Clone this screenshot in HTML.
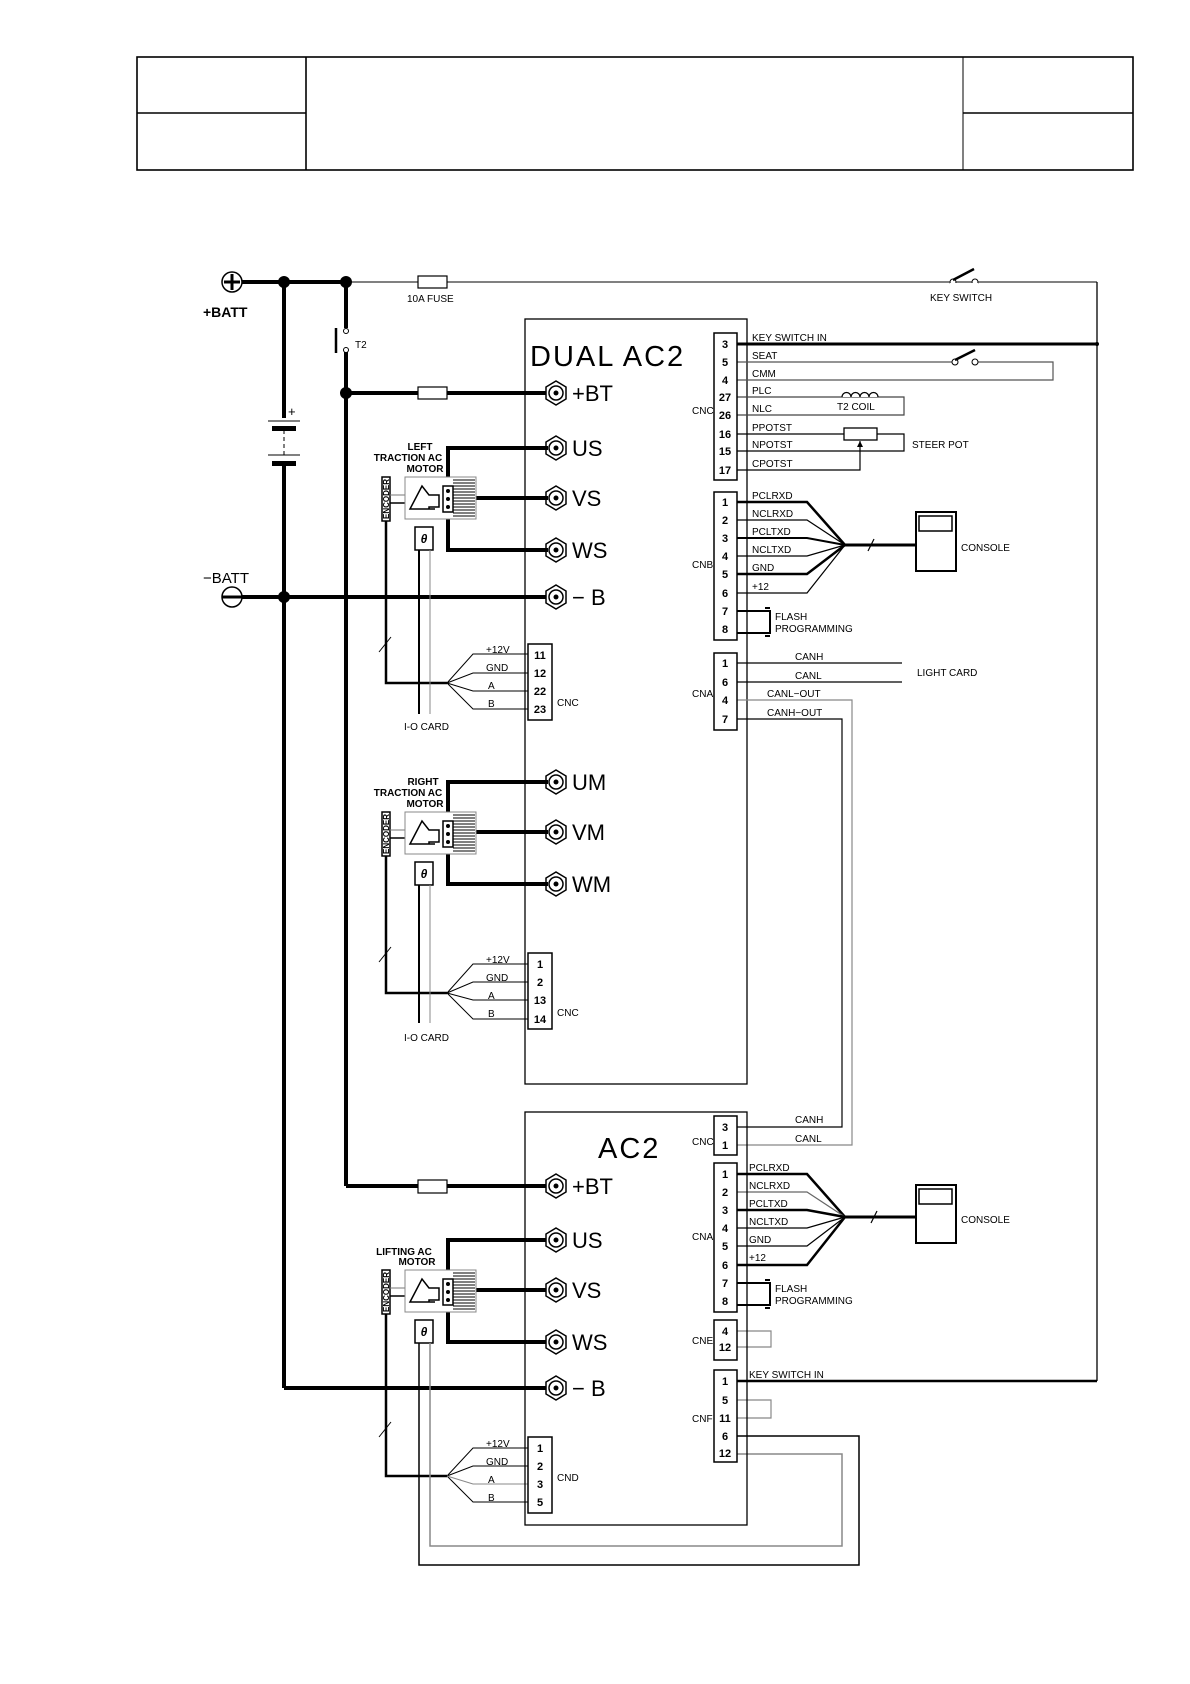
<!DOCTYPE html>
<html><head><meta charset="utf-8"><style>
html,body{margin:0;padding:0;background:#fff}
svg{display:block}
text{font-family:"Liberation Sans",sans-serif;fill:#000}
.p{font-size:11px;font-weight:bold;text-anchor:middle}
.l{font-size:10px}
.b{font-size:22px}
</style></head><body>
<svg width="1190" height="1684" viewBox="0 0 1190 1684" xmlns="http://www.w3.org/2000/svg">
<defs>
<g id="term"><polygon points="0,-12 10,-6 10,6 0,12 -10,6 -10,-6" fill="#fff" stroke="#000" stroke-width="1.5"/><circle r="7" fill="none" stroke="#000" stroke-width="1.5"/><circle r="2.5" fill="#000"/></g>
<g id="motor">
<rect x="-23" y="0" width="8" height="44" fill="#fff" stroke="#000" stroke-width="1.5"/>
<text transform="translate(-16,42) rotate(-90)" style="font-size:8px;font-weight:bold">ENCODER</text>
<line x1="-15" y1="18" x2="0" y2="18" stroke="#777"/><line x1="-15" y1="26" x2="0" y2="26" stroke="#000" stroke-width="1.5"/>
<rect x="0" y="0" width="71" height="42" fill="#fff" stroke="#888"/>
<path d="M5,32 L17,9 L24,18 L34,18 L34,30 L24,30 L24,32 Z M5,32 L30,32" fill="none" stroke="#000" stroke-width="1.5"/>
<rect x="38" y="9" width="10" height="26" fill="#fff" stroke="#000" stroke-width="1.5"/>
<circle cx="43" cy="14" r="2" fill="#000"/><circle cx="43" cy="22" r="2" fill="#000"/><circle cx="43" cy="30" r="2" fill="#000"/>
<g stroke="#000" stroke-width="1"><line x1="48" y1="3" x2="70" y2="3"/><line x1="48" y1="6" x2="70" y2="6"/><line x1="48" y1="9" x2="70" y2="9"/><line x1="48" y1="12" x2="70" y2="12"/><line x1="48" y1="15" x2="70" y2="15"/><line x1="48" y1="18" x2="70" y2="18"/><line x1="48" y1="21" x2="70" y2="21"/><line x1="48" y1="24" x2="70" y2="24"/><line x1="48" y1="27" x2="70" y2="27"/><line x1="48" y1="30" x2="70" y2="30"/><line x1="48" y1="33" x2="70" y2="33"/><line x1="48" y1="36" x2="70" y2="36"/><line x1="48" y1="39" x2="70" y2="39"/></g>
<rect x="10" y="50" width="18" height="23" fill="#fff" stroke="#000" stroke-width="1.5"/>
<text x="19" y="66" style="font-size:12px;font-weight:bold;font-style:italic" text-anchor="middle">θ</text>
</g>
</defs>

<!-- header -->
<g fill="none" stroke="#000" stroke-width="1.6">
<rect x="137" y="57" width="996" height="113"/>
<line x1="306" y1="57" x2="306" y2="170"/><line x1="963" y1="57" x2="963" y2="170" stroke-width="1"/>
<line x1="137" y1="113" x2="306" y2="113"/><line x1="963" y1="113" x2="1133" y2="113"/>
</g>

<!-- power rails -->
<g fill="none" stroke="#000">
<line x1="232" y1="282" x2="346" y2="282" stroke-width="4"/>
<line x1="346" y1="282" x2="1097" y2="282" stroke-width="1"/>
<line x1="1097" y1="282" x2="1097" y2="1381" stroke-width="1.3"/>
<line x1="284" y1="282" x2="284" y2="418" stroke-width="4"/>
<line x1="284" y1="466" x2="284" y2="1388" stroke-width="4"/>
<line x1="284" y1="430" x2="284" y2="455" stroke-width="1" stroke-dasharray="4,3"/>
<line x1="346" y1="282" x2="346" y2="328" stroke-width="4"/>
<line x1="346" y1="352" x2="346" y2="1186" stroke-width="4"/>
<line x1="232" y1="597" x2="556" y2="597" stroke-width="4"/>
<line x1="284" y1="1388" x2="556" y2="1388" stroke-width="4"/>
<line x1="346" y1="393" x2="556" y2="393" stroke-width="4"/>
<line x1="346" y1="1186" x2="556" y2="1186" stroke-width="4"/>
</g>
<circle cx="284" cy="282" r="6"/><circle cx="346" cy="282" r="6"/><circle cx="346" cy="393" r="6"/><circle cx="284" cy="597" r="6"/>
<circle cx="232" cy="282" r="10" fill="#fff" stroke="#000" stroke-width="1.5"/>
<path d="M224,282 H240 M232,274 V290" stroke="#000" stroke-width="3"/>
<circle cx="232" cy="597" r="10" fill="#fff" stroke="#000" stroke-width="1.5"/>
<path d="M222,597 H242" stroke="#000" stroke-width="3"/>
<text x="203" y="317" style="font-size:14px;font-weight:bold">+BATT</text>
<text x="203" y="583" style="font-size:15px">−BATT</text>
<!-- battery -->
<line x1="268" y1="421" x2="300" y2="421" stroke="#000" stroke-width="1"/>
<rect x="272" y="426" width="24" height="5"/>
<line x1="268" y1="455" x2="300" y2="455" stroke="#000" stroke-width="1"/>
<rect x="272" y="461" width="24" height="5"/>
<text x="288" y="416" style="font-size:13px">+</text>
<!-- fuses -->
<rect x="418" y="276" width="29" height="12" fill="#fff" stroke="#000" stroke-width="1.2"/>
<text x="407" y="302" class="l">10A FUSE</text>
<rect x="418" y="387" width="29" height="12" fill="#fff" stroke="#000" stroke-width="1.2"/>
<rect x="418" y="1180" width="29" height="13" fill="#fff" stroke="#000" stroke-width="1.2"/>
<!-- T2 -->
<line x1="336" y1="328" x2="336" y2="353" stroke="#000" stroke-width="2.5"/>
<circle cx="346" cy="331" r="2.5" fill="#fff" stroke="#000"/><circle cx="346" cy="350" r="2.5" fill="#fff" stroke="#000"/>
<text x="355" y="348" class="l">T2</text>
<!-- key switch -->
<circle cx="953" cy="282" r="3" fill="#fff" stroke="#000"/><circle cx="975" cy="282" r="3" fill="#fff" stroke="#000"/>
<line x1="953" y1="280" x2="974" y2="269" stroke="#000" stroke-width="2.5"/>
<rect x="950" y="283" width="28" height="3" fill="#fff"/>
<text x="930" y="301" class="l">KEY SWITCH</text>

<!-- DUAL AC2 box -->
<rect x="525" y="319" width="222" height="765" fill="none" stroke="#000" stroke-width="1.3"/>
<text x="530" y="366" style="font-size:29px;letter-spacing:2px">DUAL AC2</text>
<use href="#term" x="556" y="393"/><text x="572" y="401" class="b">+BT</text>
<use href="#term" x="556" y="448"/><text x="572" y="456" class="b">US</text>
<use href="#term" x="556" y="498"/><text x="572" y="506" class="b">VS</text>
<use href="#term" x="556" y="550"/><text x="572" y="558" class="b">WS</text>
<use href="#term" x="556" y="597"/><text x="572" y="605" class="b">− B</text>
<use href="#term" x="556" y="782"/><text x="572" y="790" class="b">UM</text>
<use href="#term" x="556" y="832"/><text x="572" y="840" class="b">VM</text>
<use href="#term" x="556" y="884"/><text x="572" y="892" class="b">WM</text>

<!-- motor wires -->
<g fill="none" stroke="#000" stroke-width="4">
<path d="M448,487 V448 H548"/><path d="M443,498 H548"/><path d="M448,507 V550 H548"/>
<path d="M448,822 V782 H548"/><path d="M443,832 H548"/><path d="M448,842 V884 H548"/>
<path d="M448,1280 V1240 H548"/><path d="M443,1290 H548"/><path d="M448,1300 V1342 H548"/>
</g>
<use href="#motor" x="405" y="477"/>
<use href="#motor" x="405" y="812"/>
<use href="#motor" x="405" y="1270"/>
<text x="420" y="450" style="font-size:10px;font-weight:bold" text-anchor="middle">LEFT</text>
<text x="408" y="461" style="font-size:10px;font-weight:bold" text-anchor="middle">TRACTION AC</text>
<text x="425" y="472" style="font-size:10px;font-weight:bold" text-anchor="middle">MOTOR</text>
<text x="423" y="785" style="font-size:10px;font-weight:bold" text-anchor="middle">RIGHT</text>
<text x="408" y="796" style="font-size:10px;font-weight:bold" text-anchor="middle">TRACTION AC</text>
<text x="425" y="807" style="font-size:10px;font-weight:bold" text-anchor="middle">MOTOR</text>
<text x="404" y="1255" style="font-size:10px;font-weight:bold" text-anchor="middle">LIFTING AC</text>
<text x="417" y="1265" style="font-size:10px;font-weight:bold" text-anchor="middle">MOTOR</text>

<!-- encoder wires -->
<g fill="none" stroke="#000">
<path d="M386,521 V683 H447" stroke-width="2.5"/>
<path d="M386,856 V993 H447" stroke-width="2.5"/>
<path d="M386,1314 V1476 H447" stroke-width="2.5"/>
<line x1="379" y1="652" x2="391" y2="637"/><line x1="379" y1="962" x2="391" y2="947"/><line x1="379" y1="1437" x2="391" y2="1422"/>
<line x1="419" y1="550" x2="419" y2="714" stroke-width="2"/><line x1="430" y1="550" x2="430" y2="714" stroke="#888"/>
<line x1="419" y1="885" x2="419" y2="1023" stroke-width="2"/><line x1="430" y1="885" x2="430" y2="1023" stroke="#888"/>
<path d="M419,1343 V1565 H859 V1436 H737" stroke-width="1.5"/>
<path d="M430,1343 V1546 H842 V1454 H737" stroke="#888" stroke-width="1.5"/>
<path d="M447,683 L473,654 H528 M447,683 L473,673 H528 M447,683 L473,691 H528 M447,683 L473,709 H528"/>
<path d="M447,993 L473,964 H528 M447,993 L473,982 H528 M447,993 L473,1000 H528 M447,993 L473,1019 H528"/>
<path d="M447,1476 L473,1448 H528 M447,1476 L473,1466 H528 M447,1476 L473,1502 H528"/>
<path d="M447,1476 L473,1484 H528" stroke="#888"/>
</g>
<g class="l">
<text x="486" y="653">+12V</text><text x="486" y="671">GND</text><text x="488" y="689">A</text><text x="488" y="707">B</text>
<text x="486" y="963">+12V</text><text x="486" y="981">GND</text><text x="488" y="999">A</text><text x="488" y="1017">B</text>
<text x="486" y="1447">+12V</text><text x="486" y="1465">GND</text><text x="488" y="1483">A</text><text x="488" y="1501">B</text>
<text x="404" y="730">I-O CARD</text><text x="404" y="1041">I-O CARD</text>
<text x="557" y="706">CNC</text><text x="557" y="1016">CNC</text><text x="557" y="1481">CND</text>
</g>
<g fill="#fff" stroke="#000" stroke-width="1.5">
<rect x="528" y="644" width="24" height="76"/><rect x="528" y="953" width="24" height="76"/><rect x="528" y="1437" width="24" height="76"/>
</g>
<g class="p">
<text x="540" y="659">11</text><text x="540" y="677">12</text><text x="540" y="695">22</text><text x="540" y="713">23</text>
<text x="540" y="968">1</text><text x="540" y="986">2</text><text x="540" y="1004">13</text><text x="540" y="1023">14</text>
<text x="540" y="1452">1</text><text x="540" y="1470">2</text><text x="540" y="1488">3</text><text x="540" y="1506">5</text>
</g>

<!-- right side wiring -->
<g fill="none" stroke="#000" stroke-width="1.2">
<line x1="737" y1="344" x2="1097" y2="344" stroke-width="3"/>
<path d="M737,362 H953 M975,362 H1053 V380 H737" stroke="#555"/>
<path d="M737,397 H904 V415 H737" stroke="#444"/>
<path d="M737,434 H844 M877,434 H904 V451 H737"/>
<path d="M737,470 H860 V441"/>
<path d="M737,502 H807 L845,545" stroke-width="2.5"/>
<path d="M737,520 H807 L845,545"/>
<path d="M737,538 H807 L845,545" stroke-width="2"/>
<path d="M737,556 H807 L845,545"/>
<path d="M737,574 H807 L845,545" stroke-width="2.5"/>
<path d="M737,593 H807 L845,545"/>
<path d="M845,545 H916" stroke-width="3"/>
<line x1="868" y1="551" x2="874" y2="539"/>
<path d="M737,611 H770 V633 H737 M765,608 H770 M765,636 H770" stroke-width="2"/>
<path d="M737,663 H902 M737,682 H902"/>
<path d="M737,700 H852 V1145 H737" stroke="#888"/>
<path d="M737,719 H842 V1127 H737"/>
<path d="M737,1174 H807 L845,1217" stroke-width="2.5"/>
<path d="M737,1192 H807 L845,1217" stroke="#666"/>
<path d="M737,1210 H807 L845,1217" stroke-width="2.5"/>
<path d="M737,1228 H807 L845,1217"/>
<path d="M737,1246 H807 L845,1217"/>
<path d="M737,1265 H807 L845,1217" stroke-width="2.5"/>
<path d="M845,1217 H916" stroke-width="3"/>
<line x1="871" y1="1223" x2="877" y2="1211"/>
<path d="M737,1283 H770 V1305 H737 M765,1280 H770 M765,1308 H770" stroke-width="2"/>
<path d="M737,1331 H771 V1347 H737" stroke="#888"/>
<path d="M737,1400 H771 V1418 H737" stroke="#888"/>
<path d="M737,1381 H1097" stroke-width="2.5"/>
</g>
<circle cx="1097" cy="344" r="2" fill="#000"/>
<circle cx="955" cy="362" r="3" fill="#fff" stroke="#000"/><circle cx="975" cy="362" r="3" fill="#fff" stroke="#000"/>
<line x1="955" y1="360" x2="975" y2="350" stroke="#000" stroke-width="2.5"/>
<path d="M842,397 a4.5,4.5 0 0 1 9,0 a4.5,4.5 0 0 1 9,0 a4.5,4.5 0 0 1 9,0 a4.5,4.5 0 0 1 9,0" fill="#fff" stroke="#000" stroke-width="1.3"/>
<text x="837" y="410" class="l">T2 COIL</text>
<rect x="844" y="428" width="33" height="12" fill="#fff" stroke="#000" stroke-width="1.3"/>
<path d="M857,447 L860,441 L863,447 Z"/>
<text x="912" y="448" class="l">STEER POT</text>
<rect x="916" y="512" width="40" height="59" fill="#fff" stroke="#000" stroke-width="2"/>
<rect x="919" y="516" width="33" height="15" fill="none" stroke="#000" stroke-width="1.5"/>
<text x="961" y="551" class="l">CONSOLE</text>
<rect x="916" y="1185" width="40" height="58" fill="#fff" stroke="#000" stroke-width="2"/>
<rect x="919" y="1189" width="33" height="15" fill="none" stroke="#000" stroke-width="1.5"/>
<text x="961" y="1223" class="l">CONSOLE</text>

<g class="l">
<text x="752" y="341">KEY SWITCH IN</text><text x="752" y="359">SEAT</text><text x="752" y="377">CMM</text><text x="752" y="394">PLC</text><text x="752" y="412">NLC</text><text x="752" y="431">PPOTST</text><text x="752" y="448">NPOTST</text><text x="752" y="467">CPOTST</text>
<text x="752" y="499">PCLRXD</text><text x="752" y="517">NCLRXD</text><text x="752" y="535">PCLTXD</text><text x="752" y="553">NCLTXD</text><text x="752" y="571">GND</text><text x="752" y="590">+12</text>
<text x="775" y="620">FLASH</text><text x="775" y="632">PROGRAMMING</text>
<text x="795" y="660">CANH</text><text x="795" y="679">CANL</text><text x="767" y="697">CANL−OUT</text><text x="767" y="716">CANH−OUT</text>
<text x="917" y="676">LIGHT CARD</text>
<text x="795" y="1123">CANH</text><text x="795" y="1142">CANL</text>
<text x="749" y="1171">PCLRXD</text><text x="749" y="1189">NCLRXD</text><text x="749" y="1207">PCLTXD</text><text x="749" y="1225">NCLTXD</text><text x="749" y="1243">GND</text><text x="749" y="1261">+12</text>
<text x="775" y="1292">FLASH</text><text x="775" y="1304">PROGRAMMING</text>
<text x="749" y="1378">KEY SWITCH IN</text>
<text x="692" y="414">CNC</text><text x="692" y="568">CNB</text><text x="692" y="697">CNA</text>
<text x="692" y="1145">CNC</text><text x="692" y="1240">CNA</text><text x="692" y="1344">CNE</text><text x="692" y="1422">CNF</text>
</g>

<rect x="525" y="1112" width="222" height="413" fill="none" stroke="#000" stroke-width="1.3"/>
<text x="598" y="1158" style="font-size:29px;letter-spacing:2px">AC2</text>
<use href="#term" x="556" y="1186"/><text x="572" y="1194" class="b">+BT</text>
<use href="#term" x="556" y="1240"/><text x="572" y="1248" class="b">US</text>
<use href="#term" x="556" y="1290"/><text x="572" y="1298" class="b">VS</text>
<use href="#term" x="556" y="1342"/><text x="572" y="1350" class="b">WS</text>
<use href="#term" x="556" y="1388"/><text x="572" y="1396" class="b">− B</text>

<g fill="#fff" stroke="#000" stroke-width="1.5">
<rect x="714" y="333" width="23" height="147"/><rect x="714" y="492" width="23" height="148"/><rect x="714" y="653" width="23" height="77"/>
<rect x="714" y="1116" width="23" height="39"/><rect x="714" y="1163" width="23" height="149"/><rect x="714" y="1320" width="23" height="40"/><rect x="714" y="1370" width="23" height="92"/>
</g>
<g class="p">
<text x="725" y="348">3</text><text x="725" y="366">5</text><text x="725" y="384">4</text><text x="725" y="401">27</text><text x="725" y="419">26</text><text x="725" y="438">16</text><text x="725" y="455">15</text><text x="725" y="474">17</text>
<text x="725" y="506">1</text><text x="725" y="524">2</text><text x="725" y="542">3</text><text x="725" y="560">4</text><text x="725" y="578">5</text><text x="725" y="597">6</text><text x="725" y="615">7</text><text x="725" y="633">8</text>
<text x="725" y="667">1</text><text x="725" y="686">6</text><text x="725" y="704">4</text><text x="725" y="723">7</text>
<text x="725" y="1131">3</text><text x="725" y="1149">1</text>
<text x="725" y="1178">1</text><text x="725" y="1196">2</text><text x="725" y="1214">3</text><text x="725" y="1232">4</text><text x="725" y="1250">5</text><text x="725" y="1269">6</text><text x="725" y="1287">7</text><text x="725" y="1305">8</text>
<text x="725" y="1335">4</text><text x="725" y="1351">12</text>
<text x="725" y="1385">1</text><text x="725" y="1404">5</text><text x="725" y="1422">11</text><text x="725" y="1440">6</text><text x="725" y="1457">12</text>
</g>
</svg>
</body></html>
